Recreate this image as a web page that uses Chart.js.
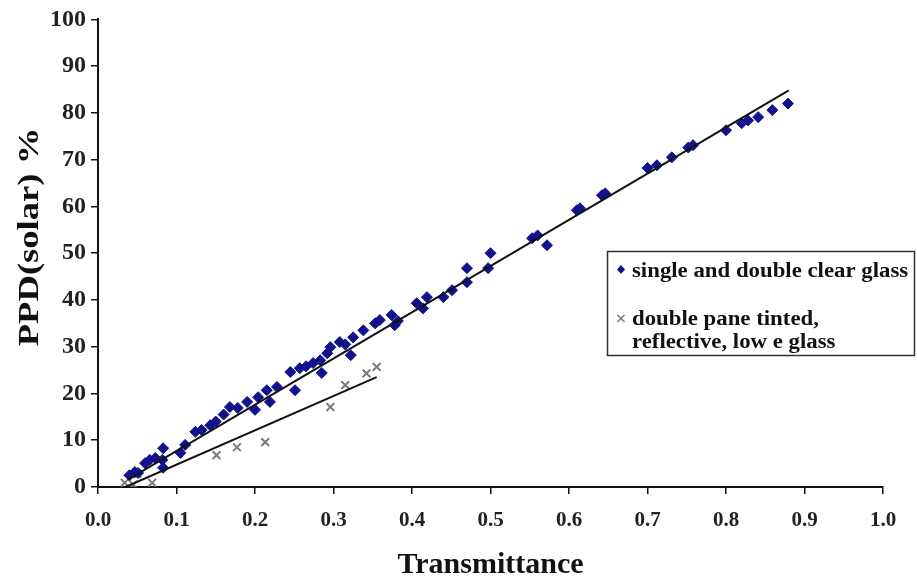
<!DOCTYPE html>
<html>
<head>
<meta charset="utf-8">
<script src="https://cdn.jsdelivr.net/npm/chart.js@4.4.1/dist/chart.umd.min.js"></script>
<style>
  html, body { margin: 0; padding: 0; background: #fff; }
</style>
</head>
<body>
<canvas id="chart" width="917" height="577"></canvas>
<script>
// single and double clear glass
const clearX = [0.040, 0.047, 0.051, 0.060, 0.066, 0.073, 0.082, 0.083, 0.083, 0.105, 0.111, 0.124, 0.132, 0.143, 0.150,
  0.160, 0.168, 0.178, 0.190, 0.200, 0.204, 0.215, 0.219, 0.228, 0.245, 0.251, 0.257, 0.265, 0.274, 0.283, 0.285, 0.292,
  0.296, 0.308, 0.315, 0.322, 0.325, 0.338, 0.353, 0.359, 0.374, 0.378, 0.382, 0.406, 0.414, 0.419, 0.440, 0.451, 0.470,
  0.470, 0.497, 0.500, 0.553, 0.560, 0.572, 0.610, 0.614, 0.642, 0.646, 0.700, 0.712, 0.731, 0.752, 0.758, 0.800, 0.820,
  0.828, 0.841, 0.859, 0.879];
const clearY = [2.5, 3.2, 3.0, 5.1, 5.8, 6.2, 5.8, 8.3, 4.1, 7.3, 9.0, 11.8, 12.2, 13.2, 14.0,
  15.5, 17.1, 16.9, 18.2, 16.5, 19.2, 20.7, 18.2, 21.4, 24.6, 20.7, 25.4, 25.8, 26.5, 27.1, 24.4, 28.6,
  29.9, 31.0, 30.5, 28.2, 32.0, 33.5, 35.0, 35.7, 36.8, 34.6, 35.5, 39.3, 38.2, 40.6, 40.6, 42.1, 43.8,
  46.8, 46.8, 50.0, 53.2, 53.8, 51.7, 59.2, 59.6, 62.4, 62.8, 68.2, 68.8, 70.5, 72.6, 73.1, 76.3, 77.8,
  78.4, 79.1, 80.6, 82.0];

// double pane tinted, reflective, low e glass
const tintedX = [0.034, 0.045, 0.050, 0.069, 0.151, 0.177, 0.213, 0.296, 0.315, 0.342, 0.355];
const tintedY = [0.9, 0.5, 2.8, 0.9, 6.8, 8.5, 9.6, 17.1, 21.8, 24.3, 25.7];

// trend lines (end points)
const clearFitX = [0.038, 0.88];
const clearFitY = [1.6, 84.8];
const tintedFitX = [0.035, 0.355];
const tintedFitY = [0, 23.5];

const yTitle = "PPD(solar) %";
const legendLines = [
  ["single and double clear glass"],
  ["double pane tinted,", "reflective, low e glass"]
];

const toPoints = (xs, ys) => xs.map((x, i) => ({ x: x, y: ys[i] }));

const serif = "'Liberation Serif', 'Times New Roman', serif";
const navy = "#12128c";
const grey = "#7a7a7a";

// y title sits a bit above the middle of the axis, so draw it by hand
const yTitlePlugin = {
  id: "yTitlePlugin",
  afterDraw(chart) {
    const ctx = chart.ctx;
    ctx.save();
    ctx.translate(30, 237);
    ctx.rotate(-Math.PI / 2);
    ctx.scale(1.22, 1);
    ctx.font = "bold 30px " + serif;
    ctx.fillStyle = "#111";
    ctx.textAlign = "center";
    ctx.textBaseline = "middle";
    ctx.fillText(yTitle, 0, 0);
    ctx.restore();
  }
};

// legend box drawn inside the plot
const boxLegend = {
  id: "boxLegend",
  afterDraw(chart) {
    const ctx = chart.ctx;
    ctx.save();
    ctx.strokeStyle = "#333";
    ctx.lineWidth = 1.5;
    ctx.strokeRect(607.5, 251.5, 307, 104);
    ctx.fillStyle = "#111";
    ctx.textBaseline = "alphabetic";
    ctx.save();
    ctx.translate(632, 0);
    ctx.scale(1.14, 1);
    ctx.font = "bold 20px " + serif;
    ctx.fillText(legendLines[0][0], 0, 277);
    ctx.fillText(legendLines[1][0], 0, 325);
    ctx.fillText(legendLines[1][1], 0, 348);
    ctx.restore();
    // markers
    ctx.fillStyle = navy;
    ctx.beginPath();
    ctx.moveTo(621, 265); ctx.lineTo(625, 269.5); ctx.lineTo(621, 274); ctx.lineTo(617, 269.5);
    ctx.closePath();
    ctx.fill();
    ctx.strokeStyle = grey;
    ctx.lineWidth = 1.5;
    ctx.beginPath();
    ctx.moveTo(617.5, 315); ctx.lineTo(624.5, 322);
    ctx.moveTo(624.5, 315); ctx.lineTo(617.5, 322);
    ctx.stroke();
    ctx.restore();
  }
};

new Chart(document.getElementById("chart").getContext("2d"), {
  type: "scatter",
  data: {
    datasets: [
      {
        label: "single and double clear glass",
        data: toPoints(clearX, clearY),
        pointStyle: "rectRot",
        pointRadius: 5.5,
        backgroundColor: navy,
        borderColor: navy,
        borderWidth: 1,
        order: 2
      },
      {
        label: "double pane tinted, reflective, low e glass",
        data: toPoints(tintedX, tintedY),
        pointStyle: "crossRot",
        pointRadius: 5.5,
        borderColor: grey,
        borderWidth: 2,
        order: 2
      },
      {
        label: "fit clear",
        type: "line",
        data: toPoints(clearFitX, clearFitY),
        borderColor: "#111",
        borderWidth: 2,
        pointRadius: 0,
        order: 1
      },
      {
        label: "fit tinted",
        type: "line",
        data: toPoints(tintedFitX, tintedFitY),
        borderColor: "#111",
        borderWidth: 2,
        pointRadius: 0,
        order: 1
      }
    ]
  },
  options: {
    responsive: false,
    animation: false,
    layout: { padding: { top: 19, right: 34, left: 0, bottom: 0 } },
    plugins: {
      legend: { display: false },
      tooltip: { enabled: false }
    },
    scales: {
      x: {
        type: "linear",
        min: 0,
        max: 1,
        afterFit: (scale) => { scale.height = 90; },
        ticks: {
          stepSize: 0.1,
          color: "#222",
          padding: 14,
          font: { family: serif, size: 21, weight: "bold" },
          callback: (v) => v.toFixed(1)
        },
        grid: { drawOnChartArea: false, drawTicks: true, tickLength: 7, color: "#111", lineWidth: 1.5 },
        border: { color: "#111", width: 2 },
        title: {
          display: true,
          text: "Transmittance",
          color: "#111",
          font: { family: serif, size: 30, weight: "bold", lineHeight: 0.8 },
          padding: { top: 0, bottom: 0 }
        }
      },
      y: {
        min: 0,
        max: 100,
        afterFit: (scale) => { scale.width = 98; },
        ticks: {
          stepSize: 10,
          color: "#222",
          padding: 5,
          font: { family: serif, size: 24, weight: "bold" }
        },
        grid: { drawOnChartArea: false, drawTicks: true, tickLength: 7, color: "#111", lineWidth: 1.5 },
        border: { color: "#111", width: 2 }
      }
    }
  },
  plugins: [yTitlePlugin, boxLegend]
});
</script>
</body>
</html>
